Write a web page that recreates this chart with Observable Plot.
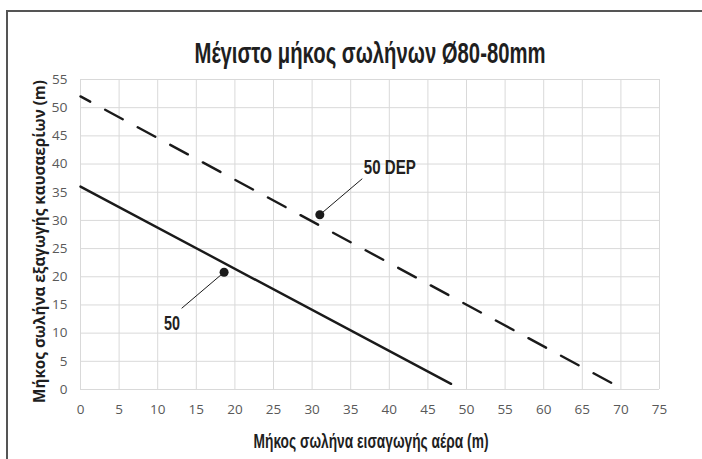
<!DOCTYPE html>
<html><head><meta charset="utf-8">
<script src="https://cdn.jsdelivr.net/npm/d3@7"></script>
<script src="https://cdn.jsdelivr.net/npm/@observablehq/plot@0.6"></script>
<style>
body{margin:0;background:#fff;}
#wrap{position:relative;width:702px;height:459px;overflow:hidden;background:#fff;}
#frame{position:absolute;left:6px;top:10px;width:720px;height:480px;border-left:2px solid #555;border-top:2px solid #555;}
#wrap svg{position:absolute;left:0;top:0;}
</style></head><body><div id="wrap"><div id="frame"></div></div>
<script>
const title = "Μέγιστο μήκος σωλήνων Ø80-80mm";
const xLabel = "Μήκος σωλήνα εισαγωγής αέρα (m)";
const yLabel = "Μήκος σωλήνα εξαγωγής καυσαερίων (m)";
const xTicks = [0,5,10,15,20,25,30,35,40,45,50,55,60,65,70,75];
const yTicks = [0,5,10,15,20,25,30,35,40,45,50,55];

// series "50" (solid)
const x50 = [0, 48];
const y50 = [36, 1];
// series "50 DEP" (dashed)
const x50dep = [0, 69];
const y50dep = [52, 1];

// annotations: label, dot point, leader end, label anchor (baseline start)
const annLabels = ["50", "50 DEP"];
const annDotX = [18.6, 31.0];
const annDotY = [20.8, 31.0];
const annLeadX = [13.1, 36.5];
const annLeadY = [14.4, 37.4];
const annTextX = [10.8, 36.7];
const annTextY = [10.5, 38.3];

const line50 = x50.map((x,i)=>({x, y:y50[i]}));
const line50dep = x50dep.map((x,i)=>({x, y:y50dep[i]}));
const ann = annLabels.map((label,i)=>({label, dx:annDotX[i], dy:annDotY[i], lx:annLeadX[i], ly:annLeadY[i], tx:annTextX[i], ty:annTextY[i]}));

const sans = "'Liberation Sans',Arial,sans-serif";
const calib = "'Open Sans',sans-serif";
// condensed look: rendered widths of the narrow texts
const squeeze = new Map([[title, 351], [xLabel, 235], ["50", 16], ["50 DEP", 52], [yLabel, 323]]);

const plot = Plot.plot({
  width: 702, height: 459,
  marginLeft: 80, marginRight: 43, marginTop: 79, marginBottom: 70,
  x: {domain: [0, 75]},
  y: {domain: [0, 55]},
  style: {background: "transparent", fontFamily: calib, overflow: "visible"},
  marks: [
    Plot.gridX(xTicks, {stroke: "#d9d9d9", strokeOpacity: 1, strokeWidth: 1}),
    Plot.gridY(yTicks, {stroke: "#d9d9d9", strokeOpacity: 1, strokeWidth: 1}),
    Plot.axisX(xTicks, {tickSize: 0, tickPadding: 15, fontSize: 13.5, fill: "#595959", label: null}),
    Plot.axisY(yTicks, {tickSize: 0, tickPadding: 13, fontSize: 13.5, fill: "#595959", label: null}),
    Plot.line(line50, {x: "x", y: "y", stroke: "#1a1a1a", strokeWidth: 2.4}),
    Plot.line(line50dep, {x: "x", y: "y", stroke: "#1a1a1a", strokeWidth: 2.4, strokeDasharray: "20,17", strokeDashoffset: 9}),
    Plot.link(ann, {x1: "dx", y1: "dy", x2: "lx", y2: "ly", stroke: "#1a1a1a", strokeWidth: 1}),
    Plot.dot(ann, {x: "dx", y: "dy", r: 4.5, fill: "#1a1a1a"}),
    Plot.text(ann, {x: "tx", y: "ty", text: "label", textAnchor: "start", lineAnchor: "bottom", fontSize: 21, fontWeight: "bold", fontFamily: sans, fill: "#231f20"}),
    Plot.text([title], {frameAnchor: "top", lineAnchor: "bottom", dy: -17, fontSize: 30, fontWeight: "bold", fontFamily: sans, fill: "#1f1f1f"}),
    Plot.text([xLabel], {frameAnchor: "bottom", lineAnchor: "bottom", dy: 58, dx: 1, fontSize: 21, fontWeight: "bold", fontFamily: sans, fill: "#1f1f1f"}),
    Plot.text([yLabel], {frameAnchor: "left", textAnchor: "middle", lineAnchor: "bottom", dx: -36, dy: 7, rotate: -90, fontSize: 15.5, fontWeight: "bold", fontFamily: calib, fill: "#1f1f1f"})
  ]
});
plot.querySelectorAll("text").forEach(t => {
  const L = squeeze.get(t.textContent);
  if (L) { t.setAttribute("textLength", L); t.setAttribute("lengthAdjust", "spacingAndGlyphs"); }
});
document.getElementById("wrap").appendChild(plot);
</script></body></html>
